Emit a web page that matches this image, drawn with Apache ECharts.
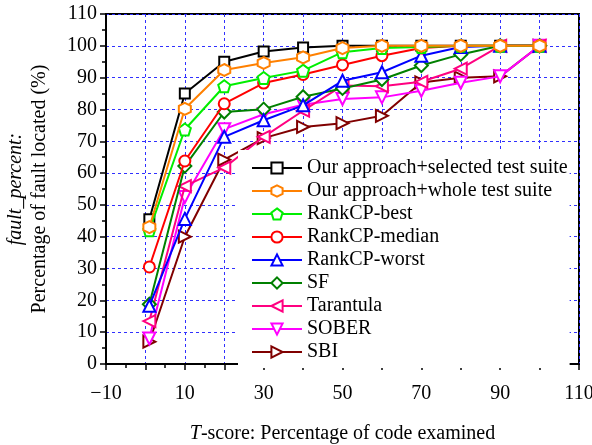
<!DOCTYPE html>
<html>
<head>
<meta charset="utf-8">
<script src="https://cdn.jsdelivr.net/npm/echarts@6/dist/echarts.min.js"></script>
<style>
  html, body { margin: 0; padding: 0; background: #fff; }
  #chart { width: 592px; height: 445px; }
</style>
</head>
<body>
<div id="chart"></div>
<script>
// T-score values (% of code examined) where each curve is sampled
const tScores = [1, 10, 20, 30, 40, 50, 60, 70, 80, 90, 100]

// fault_percent
const ourSelected = [45.5, 85, 95, 98.2, 99.5, 100, 100, 100, 100, 100, 100]
const ourWhole = [43, 80.2, 92.4, 94.6, 96.4, 99.3, 100, 100, 100, 100, 100]
const rankBest = [42, 73.7, 87.3, 89.9, 92.2, 98, 99.3, 99.6, 100, 100, 100]
const rankMedian = [30.5, 63.8, 81.8, 88.3, 91, 94, 96.9, 99.3, 100, 100, 100]
const rankWorst = [18.3, 45.6, 71.4, 76.6, 81.3, 89, 91.7, 96.9, 99.6, 100, 100]
const sf = [18.8, 62.2, 79.2, 80.1, 84, 86.6, 89.4, 93.8, 97.3, 100, 100]
const tarantula = [13.5, 55.9, 61.7, 71.4, 79.6, 87.5, 87.3, 88.7, 92.8, 100, 100]
const sober = [8, 52.5, 73.8, 78.5, 81.5, 83.3, 83.8, 85.9, 88.4, 90.4, 100]
const sbi = [7, 40, 64.2, 71, 74.5, 75.7, 78, 88.5, 90, 90.4, 100]

const xTickLabels = [-10, 10, 30, 50, 70, 90, 110]

const FONT = "'Liberation Serif', 'Times New Roman', serif"

// z: stacking order seen in the figure (orange on top, black at the bottom)
const seriesDefs = [
  { name: 'Our approach+selected test suite', data: ourSelected, color: '#000000', symbol: 'rect', size: 10, z: 2 },
  { name: 'Our approach+whole test suite', data: ourWhole, color: '#ff8000', symbol: 'path://M5,0 L9.33,2.5 L9.33,7.5 L5,10 L0.67,7.5 L0.67,2.5 Z', size: 12, z: 10 },
  { name: 'RankCP-best', data: rankBest, color: '#00ee00', symbol: 'path://M5,0 L10,3.8 L8.1,10 L1.9,10 L0,3.8 Z', size: 12, z: 9 },
  { name: 'RankCP-median', data: rankMedian, color: '#ff0000', symbol: 'circle', size: 11, z: 8 },
  { name: 'RankCP-worst', data: rankWorst, color: '#0000ff', symbol: 'triangle', size: 12, z: 7 },
  { name: 'SF', data: sf, color: '#008000', symbol: 'diamond', size: 13, z: 6 },
  { name: 'Tarantula', data: tarantula, color: '#ff0080', symbol: 'path://M0,5 L10,0 L10,10 Z', size: 12, z: 5 },
  { name: 'SOBER', data: sober, color: '#ff00ff', symbol: 'path://M0,0 L10,0 L5,10 Z', size: 12, z: 4 },
  { name: 'SBI', data: sbi, color: '#800000', symbol: 'path://M0,0 L10,5 L0,10 Z', size: 12, z: 3 }
]

const chart = echarts.init(document.getElementById('chart'), null, { renderer: 'canvas' })

const option = {
  backgroundColor: '#fff',
  animation: false,
  textStyle: { fontFamily: FONT, color: '#000' },
  grid: {
    left: 106,
    right: 13,
    top: 14,
    bottom: 81,
    outerBoundsMode: 'none',
    show: true,
    borderColor: '#000',
    borderWidth: 2,
    backgroundColor: 'transparent'
  },
  legend: {
    orient: 'vertical',
    left: 238,
    top: 150,
    z: 30,
    padding: [8, 2, 6, 13],
    backgroundColor: '#fff',
    itemWidth: 50,
    itemHeight: 14,
    itemGap: 3,
    textStyle: { fontFamily: FONT, fontSize: 20, color: '#000', lineHeight: 20 },
    data: seriesDefs.map(s => s.name)
  },
  xAxis: {
    type: 'value',
    min: -10,
    max: 110,
    interval: 10,
    name: '{i|T}{n|-score: Percentage of code examined}',
    nameLocation: 'middle',
    nameGap: 60,
    nameTextStyle: {
      rich: {
        i: { fontFamily: FONT, fontSize: 20, fontStyle: 'italic', color: '#000' },
        n: { fontFamily: FONT, fontSize: 20, color: '#000' }
      }
    },
    axisLine: { onZero: false, lineStyle: { color: '#000', width: 2 } },
    axisTick: { show: true, inside: false, length: 6, lineStyle: { color: '#000', width: 1.5 } },
    minorTick: { show: true, splitNumber: 2, length: 4, lineStyle: { color: '#000', width: 1.5 } },
    axisLabel: {
      fontFamily: FONT,
      fontSize: 20,
      color: '#000',
      margin: 20,
      showMinLabel: true,
      showMaxLabel: true,
      formatter: v => xTickLabels.includes(v) ? (v < 0 ? '\u2212' + Math.abs(v) : String(v)) : ''
    },
    splitLine: { show: true, lineStyle: { color: '#3030ff', width: 1, type: [3, 3] } }
  },
  yAxis: {
    type: 'value',
    min: 0,
    max: 110,
    interval: 10,
    name: '{i|fault_percent:}\n{n|Percentage of fault located (%)}',
    nameLocation: 'middle',
    nameGap: 54,
    nameTextStyle: {
      rich: {
        i: { fontFamily: FONT, fontSize: 20, fontStyle: 'italic', color: '#000', lineHeight: 24 },
        n: { fontFamily: FONT, fontSize: 20, color: '#000', lineHeight: 24 }
      }
    },
    axisLine: { show: true, onZero: false, lineStyle: { color: '#000', width: 2 } },
    axisTick: { show: true, inside: false, length: 6, lineStyle: { color: '#000', width: 1.5 } },
    minorTick: { show: true, splitNumber: 2, length: 4, lineStyle: { color: '#000', width: 1.5 } },
    axisLabel: { fontFamily: FONT, fontSize: 20, color: '#000', margin: 9 },
    splitLine: { show: true, lineStyle: { color: '#3030ff', width: 1, type: [3, 3] } }
  },
  series: seriesDefs.map(s => ({
    name: s.name,
    type: 'line',
    z: s.z,
    data: tScores.map((t, j) => [t, s.data[j]]),
    symbol: s.symbol,
    symbolSize: s.size,
    showAllSymbol: true,
    lineStyle: { color: s.color, width: 2 },
    itemStyle: { color: '#fff', borderColor: s.color, borderWidth: 2 },
    emphasis: { disabled: true }
  }))
}

chart.setOption(option)
</script>
</body>
</html>
